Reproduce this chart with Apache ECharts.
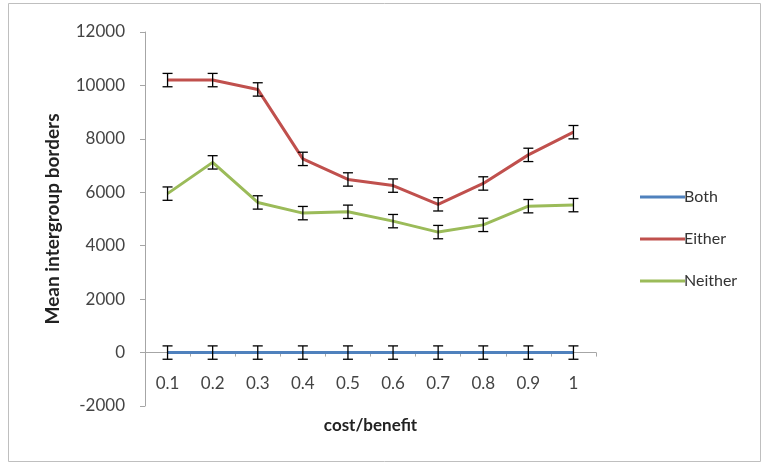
<!DOCTYPE html>
<html><head><meta charset="utf-8">
<script src="https://cdn.jsdelivr.net/npm/echarts@6/dist/echarts.min.js"></script>
<style>html,body{margin:0;padding:0;background:#fff}#c{width:766px;height:465px}</style>
</head><body><div id="c"></div>
<script>
const categories = ['0.1','0.2','0.3','0.4','0.5','0.6','0.7','0.8','0.9','1'];
const both = [0,0,0,0,0,0,0,0,0,0];
const either = [10200,10200,9850,7250,6480,6250,5550,6330,7400,8250];
const neither = [5950,7120,5620,5220,5270,4920,4510,4780,5480,5520];
const bothErr = [250,250,250,250,250,250,250,250,250,250];
const eitherErr = [250,250,250,250,250,250,250,250,250,250];
const neitherErr = [250,250,250,250,250,250,250,250,250,250];
const seriesNames = ['Both','Either','Neither'];
const yMin = -2000, yMax = 12000, yStep = 2000;
const colors = ['#4f81bd','#c0504d','#9bbb59'];
const FONT = 'Lato, "Open Sans", sans-serif';

const W = 766, H = 465, G = {left:145, right:170, top:32, bottom:59};
const gridH = H - G.top - G.bottom;
const xAxisOffset = -(0 - yMin) / (yMax - yMin) * gridH;

function errData(vals, errs){ return vals.map((v,i)=>[i,v,errs[i]]); }
function errSeries(vals, errs){
  return {
    type:'custom', z:5, silent:true,
    data: errData(vals, errs),
    renderItem: function(params, api){
      const i = api.value(0), v = api.value(1), e = api.value(2);
      const top = api.coord([i, v+e]);
      const bot = api.coord([i, v-e]);
      const hw = 5;
      const st = {stroke:'#000', lineWidth:1.3};
      return {type:'group', children:[
        {type:'line', shape:{x1:top[0],y1:top[1],x2:bot[0],y2:bot[1]}, style:st},
        {type:'line', shape:{x1:top[0]-hw,y1:top[1],x2:top[0]+hw,y2:top[1]}, style:st},
        {type:'line', shape:{x1:bot[0]-hw,y1:bot[1],x2:bot[0]+hw,y2:bot[1]}, style:st}
      ]};
    }
  };
}
function lineSeries(name, vals, color){
  return {name:name, type:'line', data:vals, symbol:'none', z:3,
    lineStyle:{width:3, color:color}, itemStyle:{color:color}};
}
const chart = echarts.init(document.getElementById('c'), null, {renderer:'canvas'});
chart.setOption({
  animation:false,
  graphic:[{type:'rect', shape:{x:8.5,y:3.5,width:752,height:458}, style:{fill:'none', stroke:'#bfbfbf', lineWidth:1}}],
  grid:{left:G.left, right:G.right, top:G.top, bottom:G.bottom, containLabel:false, outerBoundsMode:'none'},
  legend:{
    orient:'vertical', left:635, top:184, itemWidth:45, itemHeight:3, itemGap:26,
    icon:'rect',
    data:seriesNames,
    textStyle:{fontFamily:FONT, fontSize:16, color:'#333', padding:[0,0,0,-6]}
  },
  xAxis:{
    type:'category', data:categories, boundaryGap:true, position:'bottom', offset:xAxisOffset,
    name:'cost/benefit', nameLocation:'middle', nameGap:64,
    nameTextStyle:{fontFamily:FONT, fontSize:17, fontWeight:'bold', color:'#222'},
    axisLine:{onZero:false, lineStyle:{color:'#a6a6a6', width:1}},
    axisTick:{show:true, length:4, lineStyle:{color:'#a6a6a6'}},
    axisLabel:{fontFamily:FONT, fontSize:17, color:'#444', margin:22},
    splitLine:{show:false}
  },
  yAxis:{
    type:'value', min:yMin, max:yMax, interval:yStep,
    name:'Mean intergroup borders', nameLocation:'middle', nameGap:83,
    nameTextStyle:{fontFamily:FONT, fontSize:19, fontWeight:'bold', color:'#222'},
    axisLine:{show:true, lineStyle:{color:'#a6a6a6', width:1}},
    axisTick:{show:true, length:5, lineStyle:{color:'#a6a6a6'}},
    axisLabel:{fontFamily:FONT, fontSize:17, color:'#444', margin:20, formatter:function(v){return String(v);}},
    splitLine:{show:false}
  },
  series:[
    lineSeries(seriesNames[0], both, colors[0]),
    lineSeries(seriesNames[1], either, colors[1]),
    lineSeries(seriesNames[2], neither, colors[2]),
    errSeries(both, bothErr),
    errSeries(either, eitherErr),
    errSeries(neither, neitherErr)
  ]
});
</script></body></html>
